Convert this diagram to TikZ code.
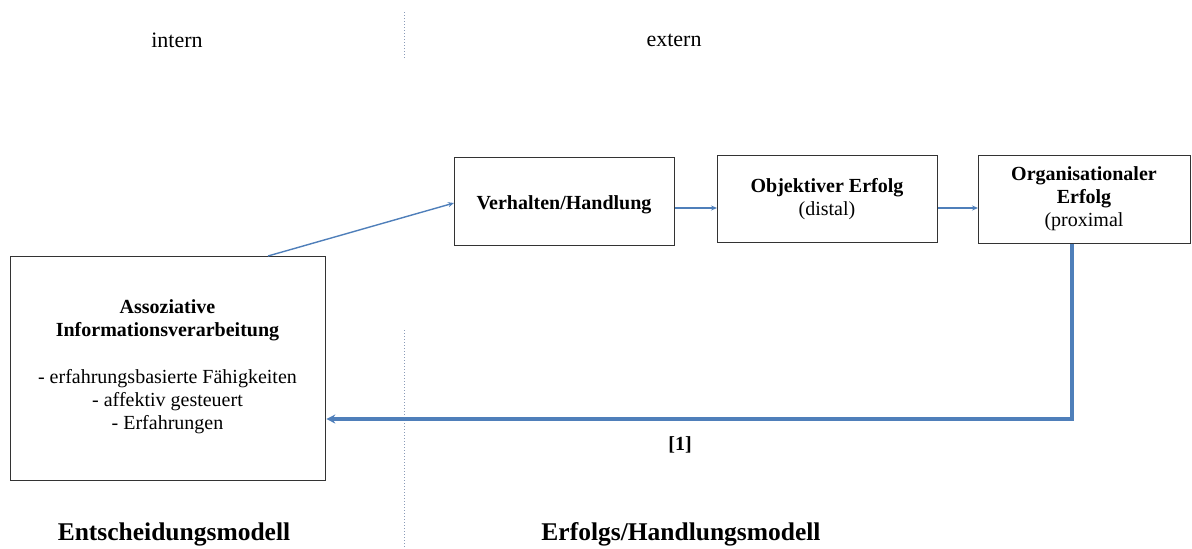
\documentclass[tikz,border=0pt]{standalone}
\usepackage{fontspec}
\setmainfont{Liberation Serif}
\usetikzlibrary{arrows.meta}
\definecolor{arrowblue}{HTML}{4F7FBA}
\definecolor{boxgray}{HTML}{333333}
\definecolor{sepgray}{HTML}{8A9BB8}
\begin{document}
\begin{tikzpicture}[x=1pt,y=-1pt,
  box/.style={draw=boxgray,line width=1.3pt,inner sep=0pt,anchor=north west},
  boxtext/.style={align=center,inner sep=0pt,font=\fontsize{20}{23}\selectfont},
  thinarrow/.style={draw=arrowblue,line width=1.4pt,-{Stealth[length=6pt,width=5pt]}},
  thickarrow/.style={draw=arrowblue,line width=3.8pt,-{Stealth[length=9pt,width=9pt]}},
  sep/.style={draw=sepgray,line width=1pt,dotted},
  lbl/.style={font=\fontsize{22}{24}\selectfont},
  biglbl/.style={font=\bfseries\fontsize{25.5}{28}\selectfont}]
\useasboundingbox (0,0) rectangle (1192,549);
\draw[sep] (404,12) -- (404,58);
\draw[sep] (404,330) -- (404,549);
\node[lbl] (intern) at (177,40) {intern};
\node[lbl] (extern) at (674,40) {extern};
\node[box,minimum width=315pt,minimum height=224pt] (assoz) at (10,256) {};
\node[boxtext] (assoztext) at (167.5,367) {\textbf{Assoziative}\\\textbf{Informationsverarbeitung}\\[24pt]- erfahrungsbasierte Fähigkeiten\\- affektiv gesteuert\\- Erfahrungen};
\node[box,minimum width=220pt,minimum height=88pt] (verh) at (454,157) {};
\node[boxtext,font=\bfseries\fontsize{20}{23}\selectfont] (verhtext) at (564,205) {Verhalten/Handlung};
\node[box,minimum width=220pt,minimum height=87pt] (obj) at (717,155) {};
\node[boxtext] (objtext) at (827,199) {\textbf{Objektiver Erfolg}\\(distal)};
\node[box,minimum width=212pt,minimum height=88pt] (org) at (978,155) {};
\node[boxtext] (orgtext) at (1084,199) {\textbf{Organisationaler}\\\textbf{Erfolg}\\(proximal};
\coordinate (fb1) at (1072,419);
\draw[thinarrow] (268,256) -- (verh.west |- 0,203);
\draw[thinarrow] (verh.east |- 0,208) -- (obj.west |- 0,208);
\draw[thinarrow] (obj.east |- 0,208) -- (org.west |- 0,208);
\draw[thickarrow] (org.south -| fb1) -- (fb1) -- (assoz.east |- fb1);
\node[font=\bfseries\fontsize{20}{23}\selectfont] (ref) at (680,445) {[1]};
\node[biglbl] (entsch) at (174,534) {Entscheidungsmodell};
\node[biglbl] (erfolg) at (681,534) {Erfolgs/Handlungsmodell};
\end{tikzpicture}
\end{document}
